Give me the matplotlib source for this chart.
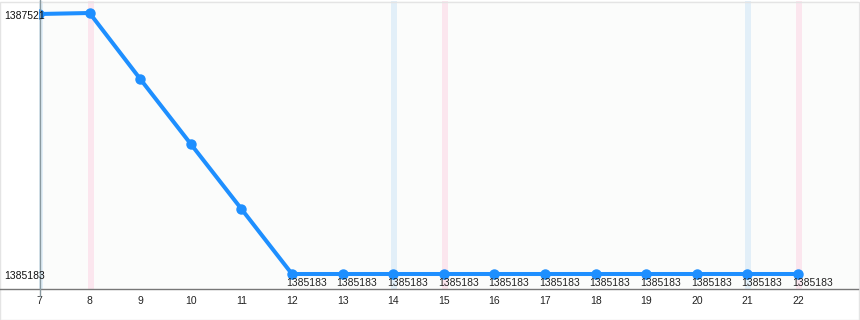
import matplotlib
matplotlib.use("Agg")
import matplotlib.pyplot as plt
from matplotlib.lines import Line2D
from matplotlib.patches import Rectangle

days = [7, 8, 9, 10, 11, 12, 13, 14, 15, 16, 17, 18, 19, 20, 21, 22]
values = [1387521, 1387530, 1386937, 1386352, 1385768, 1385183, 1385183,
          1385183, 1385183, 1385183, 1385183, 1385183, 1385183, 1385183,
          1385183, 1385183]
labeled_days = [12, 13, 14, 15, 16, 17, 18, 19, 20, 21, 22]
blue_days = [7, 14, 21]
pink_days = [8, 15, 22]
y_tick_values = [1387521, 1385183]

W, H = 860, 320
plt.rcParams['font.family'] = ['Liberation Sans', 'DejaVu Sans']
fs = 7.5

fig = plt.figure(figsize=(W / 100, H / 100), dpi=100)
fig.patch.set_facecolor('white')

ax_left, ax_right, ax_top, ax_bottom = 39, 858, 1, 289
ax = fig.add_axes([ax_left / W, (H - ax_bottom) / H,
                   (ax_right - ax_left) / W, (ax_bottom - ax_top) / H])
ax.set_facecolor('#fbfcfb')

px_per_day = 50.6
ax.set_xlim(7, 7 + (ax_right - ax_left) / px_per_day)
k = (y_tick_values[0] - y_tick_values[1]) / 260.0
ax.set_ylim(y_tick_values[1] - 15 * k, y_tick_values[0] + 13 * k)

for d in blue_days:
    ax.axvspan(d - 0.04, d + 0.08, color='#e2eff8', lw=0, zorder=0)
for d in pink_days:
    ax.axvspan(d - 0.04, d + 0.08, color='#fbe6ee', lw=0, zorder=0)

ax.plot(days, values, color='#1e8fff', lw=2.9, marker='o', ms=6.5,
        solid_capstyle='round', zorder=3)

for s in ax.spines.values():
    s.set_visible(False)
ax.set_yticks([])
ax.set_xticks(days)
ax.set_xticklabels([str(d) for d in days], fontsize=fs, color='#222222')
ax.tick_params(axis='x', length=0, pad=5)

# point labels
from matplotlib.transforms import offset_copy
tr = offset_copy(ax.transData, fig=fig, x=-6, y=-4, units='dots')
for d, v in zip(days, values):
    if d in labeled_days:
        ax.text(d, v, str(v), transform=tr, ha='left', va='top', fontsize=fs,
                color='#222222', zorder=4)

# y labels
for v in y_tick_values:
    ytr = offset_copy(ax.transData, fig=fig, x=0, y=-2, units='dots')
    yfig = fig.transFigure.inverted().transform(ax.transData.transform((7, v)))[1]
    fig.text(4 / W, yfig - 2 / H, str(v), ha='left', va='center', fontsize=fs,
             color='#111111', zorder=5)

# axes lines
fig.add_artist(Line2D([0, ax_right / W], [(H - ax_bottom) / H] * 2,
                      color='#777777', lw=1.0, transform=fig.transFigure))
fig.add_artist(Line2D([(ax_left + 0.5) / W] * 2, [(H - 296) / H, 1],
                      color='#8a9aa0', lw=1.0, transform=fig.transFigure))

# border
fig.add_artist(Rectangle((0, 0), (W - 1.5) / W, (H - 1.5) / H, fill=False,
                         ec='#e4e4e4', lw=1.0, transform=fig.transFigure))

fig.savefig('out.png', dpi=100)
